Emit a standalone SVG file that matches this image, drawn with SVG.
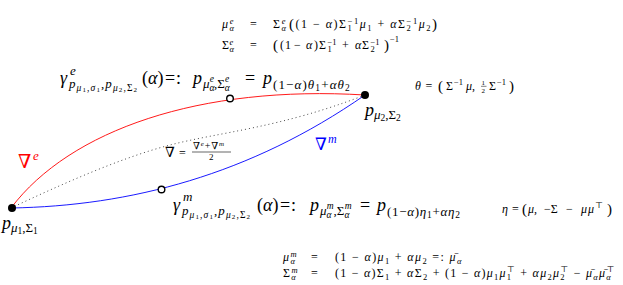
<svg xmlns="http://www.w3.org/2000/svg" width="623" height="285" viewBox="0 0 623 285">
<style>
.f{font-family:"Liberation Serif","DejaVu Serif",serif;fill:#000}
.i{font-style:italic}
.b{font-size:18px}
.m{font-size:13px}
.s{font-size:9.5px}
.t{font-size:7px}
.ls{letter-spacing:1.1px}
.q{font-size:12px}
.q1{font-size:8.5px}
.pb{font-size:15px}
.curve{fill:none;stroke-width:0.9}
.dot{fill:#000}
.ring{fill:#fff;stroke:#000;stroke-width:1.4}
</style>
<g id="connectors">
<path class="curve" stroke="#ff0000" d="M11,208 C70,130 200,85 365,95"/>
<path class="curve" stroke="#0000ff" d="M11,208 C130,206 250,175 365,95"/>
<path class="curve" stroke="#333" stroke-dasharray="1 3" d="M11,208 C60,185 120,158 170,145 S280,128 365,95"/>
</g>
<g id="p1">
<circle class="dot" cx="12" cy="208" r="4"/>
<text class="f b" x="2" y="229"><tspan class="i">p</tspan><tspan class="m i" y="232">μ</tspan><tspan class="s" y="234">1</tspan><tspan class="m" y="232">,Σ</tspan><tspan class="s" y="234">1</tspan></text>
</g>
<g id="p2">
<circle class="dot" cx="365" cy="95" r="4"/>
<text class="f b" x="365" y="116"><tspan class="i">p</tspan><tspan class="m i" y="119">μ</tspan><tspan class="s" y="121">2</tspan><tspan class="m" y="119">,Σ</tspan><tspan class="s" y="121">2</tspan></text>
</g>
<g id="mid-e"><circle class="ring" cx="230" cy="98.5" r="3.3"/></g>
<g id="mid-m"><circle class="ring" cx="161.5" cy="189.5" r="3.3"/></g>
<g id="nabla-e">
<text class="f" x="18" y="168" style="fill:#ff0000;font-size:19px">∇<tspan class="i" style="font-size:13px" x="33" y="160">e</tspan></text>
</g>
<g id="nabla-m">
<text class="f" x="315" y="150" style="fill:#0000ff;font-size:17px">∇<tspan class="i" style="font-size:12px" x="328" y="143">m</tspan></text>
</g>
<g id="nabla-avg">
<text class="f" x="165" y="157" style="font-size:14px">∇<tspan x="179" style="font-size:12px">=</tspan></text>
<text class="f" x="193" y="149" style="font-size:10px;letter-spacing:0.8px">∇<tspan class="i" style="font-size:7px" y="146">e</tspan><tspan y="149">+∇</tspan><tspan class="i" style="font-size:7px" y="146">m</tspan></text>
<line x1="192" y1="152" x2="231" y2="152" stroke="#000" stroke-width="0.6"/>
<text class="f" x="209" y="160" style="font-size:9px">2</text>
</g>
<g id="gamma-e">
<text class="f b" x="60" y="84"><tspan class="i">γ</tspan><tspan class="m i" x="70" y="75">e</tspan><tspan class="m i ls" x="69" y="88">p</tspan><tspan class="s i ls" y="90.5">μ</tspan><tspan class="t ls" y="92">1</tspan><tspan class="s ls" y="90.5">,</tspan><tspan class="s i ls">σ</tspan><tspan class="t ls" y="92">1</tspan><tspan class="m ls" y="88">,</tspan><tspan class="m i ls">p</tspan><tspan class="s i ls" y="90.5">μ</tspan><tspan class="t ls" y="92">2</tspan><tspan class="s ls" y="90.5">,Σ</tspan><tspan class="t" y="92">2</tspan><tspan x="142" y="84">(</tspan><tspan class="i">α</tspan><tspan>)</tspan><tspan x="165">=</tspan><tspan x="176">:</tspan><tspan class="i" x="193">p</tspan><tspan class="m i" x="203" y="88">μ</tspan><tspan class="s i" y="91">α</tspan><tspan class="s i" dx="-4.8" y="82">e</tspan><tspan class="m" y="88">,Σ</tspan><tspan class="s i" y="91">α</tspan><tspan class="s i" dx="-4.8" y="82">e</tspan><tspan x="245" y="84">=</tspan><tspan class="i" x="263">p</tspan><tspan class="m ls" x="273" y="89">(1−</tspan><tspan class="m i ls">α</tspan><tspan class="m ls">)</tspan><tspan class="m i ls">θ</tspan><tspan class="s ls" y="91">1</tspan><tspan class="m ls" y="89">+</tspan><tspan class="m i ls">αθ</tspan><tspan class="s" y="91">2</tspan></text>
</g>
<g id="gamma-m">
<text class="f b" x="173" y="211"><tspan class="i">γ</tspan><tspan class="m i" x="183" y="201">m</tspan><tspan class="m i ls" x="182" y="215">p</tspan><tspan class="s i ls" y="217.5">μ</tspan><tspan class="t ls" y="219">1</tspan><tspan class="s ls" y="217.5">,</tspan><tspan class="s i ls">σ</tspan><tspan class="t ls" y="219">1</tspan><tspan class="m ls" y="215">,</tspan><tspan class="m i ls">p</tspan><tspan class="s i ls" y="217.5">μ</tspan><tspan class="t ls" y="219">2</tspan><tspan class="s ls" y="217.5">,Σ</tspan><tspan class="t" y="219">2</tspan><tspan x="257" y="211">(</tspan><tspan class="i">α</tspan><tspan>)</tspan><tspan x="280">=</tspan><tspan x="291">:</tspan><tspan class="i" x="310">p</tspan><tspan class="m i" x="320" y="215">μ</tspan><tspan class="s i" y="218">α</tspan><tspan class="s i" dx="-4.8" y="209">m</tspan><tspan class="m" y="215">,Σ</tspan><tspan class="s i" y="218">α</tspan><tspan class="s i" dx="-4.8" y="209">m</tspan><tspan x="360" y="211">=</tspan><tspan class="i" x="377">p</tspan><tspan class="m" x="387" y="216" style="letter-spacing:0.7px">(1−</tspan><tspan class="m i" style="letter-spacing:0.7px">α</tspan><tspan class="m" style="letter-spacing:0.7px">)</tspan><tspan class="m i" style="letter-spacing:0.7px">η</tspan><tspan class="s" y="218" style="letter-spacing:0.7px">1</tspan><tspan class="m" y="216" style="letter-spacing:0.7px">+</tspan><tspan class="m i" style="letter-spacing:0.7px">αη</tspan><tspan class="s" y="218">2</tspan></text>
</g>
<g id="theta-def">
<text class="f q" x="415" y="90"><tspan class="i">θ</tspan><tspan x="425.5">=</tspan><tspan class="pb" x="438" y="91">(</tspan><tspan x="446" y="90">Σ</tspan><tspan class="q1" x="454" y="85">−1</tspan><tspan class="i" x="466" y="90">μ</tspan><tspan>,</tspan><tspan x="489">Σ</tspan><tspan class="q1" x="497" y="85">−1</tspan><tspan class="pb" x="509" y="91">)</tspan></text>
<text class="f" x="481.5" y="84.5" style="font-size:7px">1</text>
<line x1="481" y1="86.3" x2="486.5" y2="86.3" stroke="#000" stroke-width="0.5"/>
<text class="f" x="481.5" y="92.5" style="font-size:7px">2</text>
</g>
<g id="eta-def">
<text class="f q" x="502" y="213"><tspan class="i">η</tspan><tspan x="512">=</tspan><tspan class="pb" x="522" y="214">(</tspan><tspan class="i" x="528" y="213">μ</tspan><tspan>,</tspan><tspan x="544">−Σ</tspan><tspan x="566">−</tspan><tspan class="i" x="581" style="letter-spacing:1px">μμ</tspan><tspan class="q1" y="208">⊤</tspan><tspan class="pb" x="607" y="214">)</tspan></text>
</g>
<g id="eq-e">
<text class="f q" x="222" y="28" style="letter-spacing:1.5px"><tspan class="i">μ</tspan><tspan class="q1 i" y="31">α</tspan><tspan class="q1 i" dx="-5.7" y="24">e</tspan><tspan x="250" y="28">=</tspan><tspan x="273">Σ</tspan><tspan class="q1 i" y="31">α</tspan><tspan class="q1 i" dx="-5.7" y="24">e</tspan><tspan class="pb" dx="2" y="29">(</tspan><tspan y="28">(1 − </tspan><tspan class="i">α</tspan><tspan>)Σ</tspan><tspan class="q1" y="31">1</tspan><tspan class="q1" dx="-5.7" y="24">−1</tspan><tspan class="i" y="28">μ</tspan><tspan class="q1" y="31">1</tspan><tspan y="28"> + </tspan><tspan class="i">α</tspan><tspan>Σ</tspan><tspan class="q1" y="31">2</tspan><tspan class="q1" dx="-5.7" y="24">−1</tspan><tspan class="i" y="28">μ</tspan><tspan class="q1" y="31">2</tspan><tspan class="pb" y="29">)</tspan></text>
<text class="f q" x="222" y="49"><tspan>Σ</tspan><tspan class="q1 i" x="229.5" y="52">α</tspan><tspan class="q1 i" x="229.5" y="45">e</tspan><tspan x="250" y="49">=</tspan><tspan class="pb" x="273" y="50">(</tspan><tspan x="280" y="49">(</tspan><tspan x="285">1</tspan><tspan x="294">−</tspan><tspan class="i" x="306">α</tspan><tspan x="314">)</tspan><tspan x="319">Σ</tspan><tspan class="q1" x="327.5" y="52">1</tspan><tspan class="q1" x="327.5" y="45">−1</tspan><tspan x="342" y="49">+</tspan><tspan class="i" x="355">α</tspan><tspan x="362">Σ</tspan><tspan class="q1" x="370.5" y="52">2</tspan><tspan class="q1" x="370.5" y="45">−1</tspan><tspan class="pb" x="384" y="50">)</tspan><tspan class="q1" x="390" y="42">−1</tspan></text>
</g>
<g id="eq-m">
<text class="f q" x="283" y="261" style="letter-spacing:1.35px"><tspan class="i">μ</tspan><tspan class="q1 i" y="264">α</tspan><tspan class="q1 i" dx="-5.6" y="257">m</tspan><tspan x="311" y="261">=</tspan><tspan x="335">(1 − </tspan><tspan class="i">α</tspan><tspan>)</tspan><tspan class="i">μ</tspan><tspan class="q1" y="264">1</tspan><tspan y="261"> + </tspan><tspan class="i">αμ</tspan><tspan class="q1" y="264">2</tspan><tspan y="261"> =: </tspan><tspan class="i">μ̄</tspan><tspan class="q1 i" y="264">α</tspan></text>
<text class="f q" x="283" y="277" style="letter-spacing:1.25px"><tspan>Σ</tspan><tspan class="q1 i" y="280">α</tspan><tspan class="q1 i" dx="-5.5" y="273">m</tspan><tspan x="311" y="277">=</tspan><tspan x="335">(1 − </tspan><tspan class="i">α</tspan><tspan>)Σ</tspan><tspan class="q1" y="280">1</tspan><tspan y="277"> + </tspan><tspan class="i">α</tspan><tspan>Σ</tspan><tspan class="q1" y="280">2</tspan><tspan y="277"> + (1 − </tspan><tspan class="i">α</tspan><tspan>)</tspan><tspan class="i">μ</tspan><tspan class="q1" y="280">1</tspan><tspan class="i" y="277">μ</tspan><tspan class="q1" y="280">1</tspan><tspan class="q1" dx="-5.5" y="272">⊤</tspan><tspan y="277"> + </tspan><tspan class="i">αμ</tspan><tspan class="q1" y="280">2</tspan><tspan class="i" y="277">μ</tspan><tspan class="q1" y="280">2</tspan><tspan class="q1" dx="-5.5" y="272">⊤</tspan><tspan y="277"> − </tspan><tspan class="i">μ̄</tspan><tspan class="q1 i" y="280">α</tspan><tspan class="i" y="277">μ̄</tspan><tspan class="q1 i" y="280">α</tspan><tspan class="q1" dx="-5.5" y="272">⊤</tspan></text>
</g>
</svg>
